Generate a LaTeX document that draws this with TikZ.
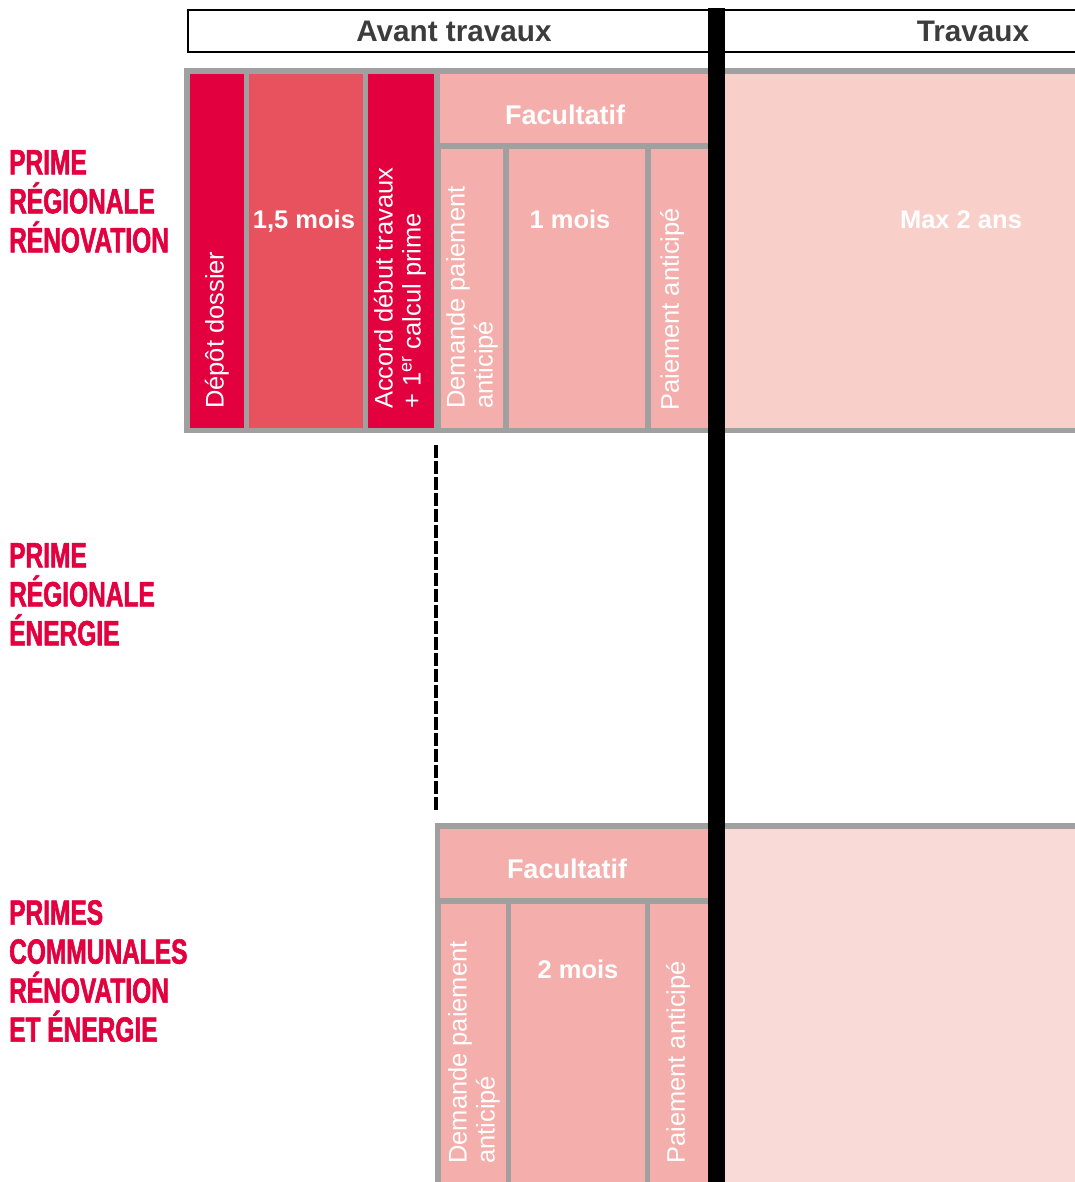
\documentclass[tikz,border=0pt]{standalone}
\usepackage{fontspec}
\setmainfont{Liberation Sans}
\newfontfamily\condfont[FakeStretch=0.7,FakeBold=1.6,UprightFont=* Bold]{Liberation Sans}
\definecolor{crim}{HTML}{E2003F}
\definecolor{rose}{HTML}{E8525F}
\definecolor{pinkc}{HTML}{F4AFAC}
\definecolor{lightp}{HTML}{F8CFC9}
\definecolor{lightq}{HTML}{F9DAD6}
\definecolor{grayb}{HTML}{A0A0A0}
\definecolor{headtxt}{HTML}{3C3C3C}
\begin{document}
\begin{tikzpicture}[x=1pt,y=-1pt,
  vtext/.style={rotate=90,anchor=west,text=white,font=\fontsize{25.5}{28}\selectfont,inner sep=0pt,align=left},
  btext/.style={anchor=base,text=white,font=\bfseries\fontsize{25.5}{28}\selectfont,inner sep=0pt},
  ftext/.style={anchor=base,text=white,font=\bfseries\fontsize{27}{30}\selectfont,inner sep=0pt},
  htext/.style={anchor=base,text=headtxt,font=\bfseries\fontsize{29.7}{32}\selectfont,inner sep=0pt},
  sidelabel/.style={anchor=north west,align=left,text=crim,inner sep=0pt,font=\condfont\fontsize{35}{39}\selectfont},
  dashline/.style={line width=4pt,dash pattern=on 13pt off 3pt}
  ]
\useasboundingbox (0,0) rectangle (1075,1182);
% header
\draw[line width=2pt] (188,10) rectangle (1090,52);
\node[htext] (avant) at (454,42) {Avant travaux};
\node[htext] (trav) at (973,42) {Travaux};
% top block
\fill[grayb] (184,68) rectangle (1075,433);
\fill[crim] (190,74) rectangle (244,428);
\fill[rose] (249,74) rectangle (363,428);
\fill[crim] (368,74) rectangle (434,428);
\fill[pinkc] (440,74) rectangle (708,143);
\fill[pinkc] (441,149) rectangle (503,428);
\fill[pinkc] (509,149) rectangle (645,428);
\fill[pinkc] (651,149) rectangle (708,428);
\fill[lightp] (725,74) rectangle (1075,428);
% bottom block
\fill[grayb] (435,823) rectangle (1075,1182);
\fill[pinkc] (440,829) rectangle (708,898);
\fill[pinkc] (441,904) rectangle (506,1182);
\fill[pinkc] (511,904) rectangle (645,1182);
\fill[pinkc] (650,904) rectangle (708,1182);
\fill[lightq] (725,829) rectangle (1075,1182);
% black bar
\fill[black] (708,8) rectangle (725,1182);
% texts top
\node[vtext] (depot) at (217,409) {Dépôt dossier};
\node[btext] (m15) at (304,229) {1,5 mois};
\node[vtext] (accord) at (400,409) {Accord début travaux\\+ 1\textsuperscript{er} calcul prime};
\node[ftext] (fac1) at (565,125) {Facultatif};
\node[vtext] (dem1) at (472,409) {Demande paiement\\anticipé};
\node[btext] (m1) at (570,229) {1 mois};
\node[vtext] (pai1) at (672,411) {Paiement anticipé};
\node[btext] (max) at (961,229) {Max 2 ans};
% texts bottom
\node[ftext] (fac2) at (567,878) {Facultatif};
\node[vtext] (dem2) at (474,1164) {Demande paiement\\anticipé};
\node[btext] (m2) at (578,978) {2 mois};
\node[vtext] (pai2) at (678,1164) {Paiement anticipé};
% dashed connector
\coordinate (dtop) at (436,445);
\coordinate (dbot) at (436,813);
\draw[dashline] (dtop) -- (dbot);
% side labels
\node[sidelabel] (lab1) at (9,150) {PRIME\\RÉGIONALE\\RÉNOVATION};
\node[sidelabel] (lab2) at (9,543) {PRIME\\RÉGIONALE\\ÉNERGIE};
\node[sidelabel] (lab3) at (9,900) {PRIMES\\COMMUNALES\\RÉNOVATION\\ET ÉNERGIE};
\end{tikzpicture}
\end{document}
